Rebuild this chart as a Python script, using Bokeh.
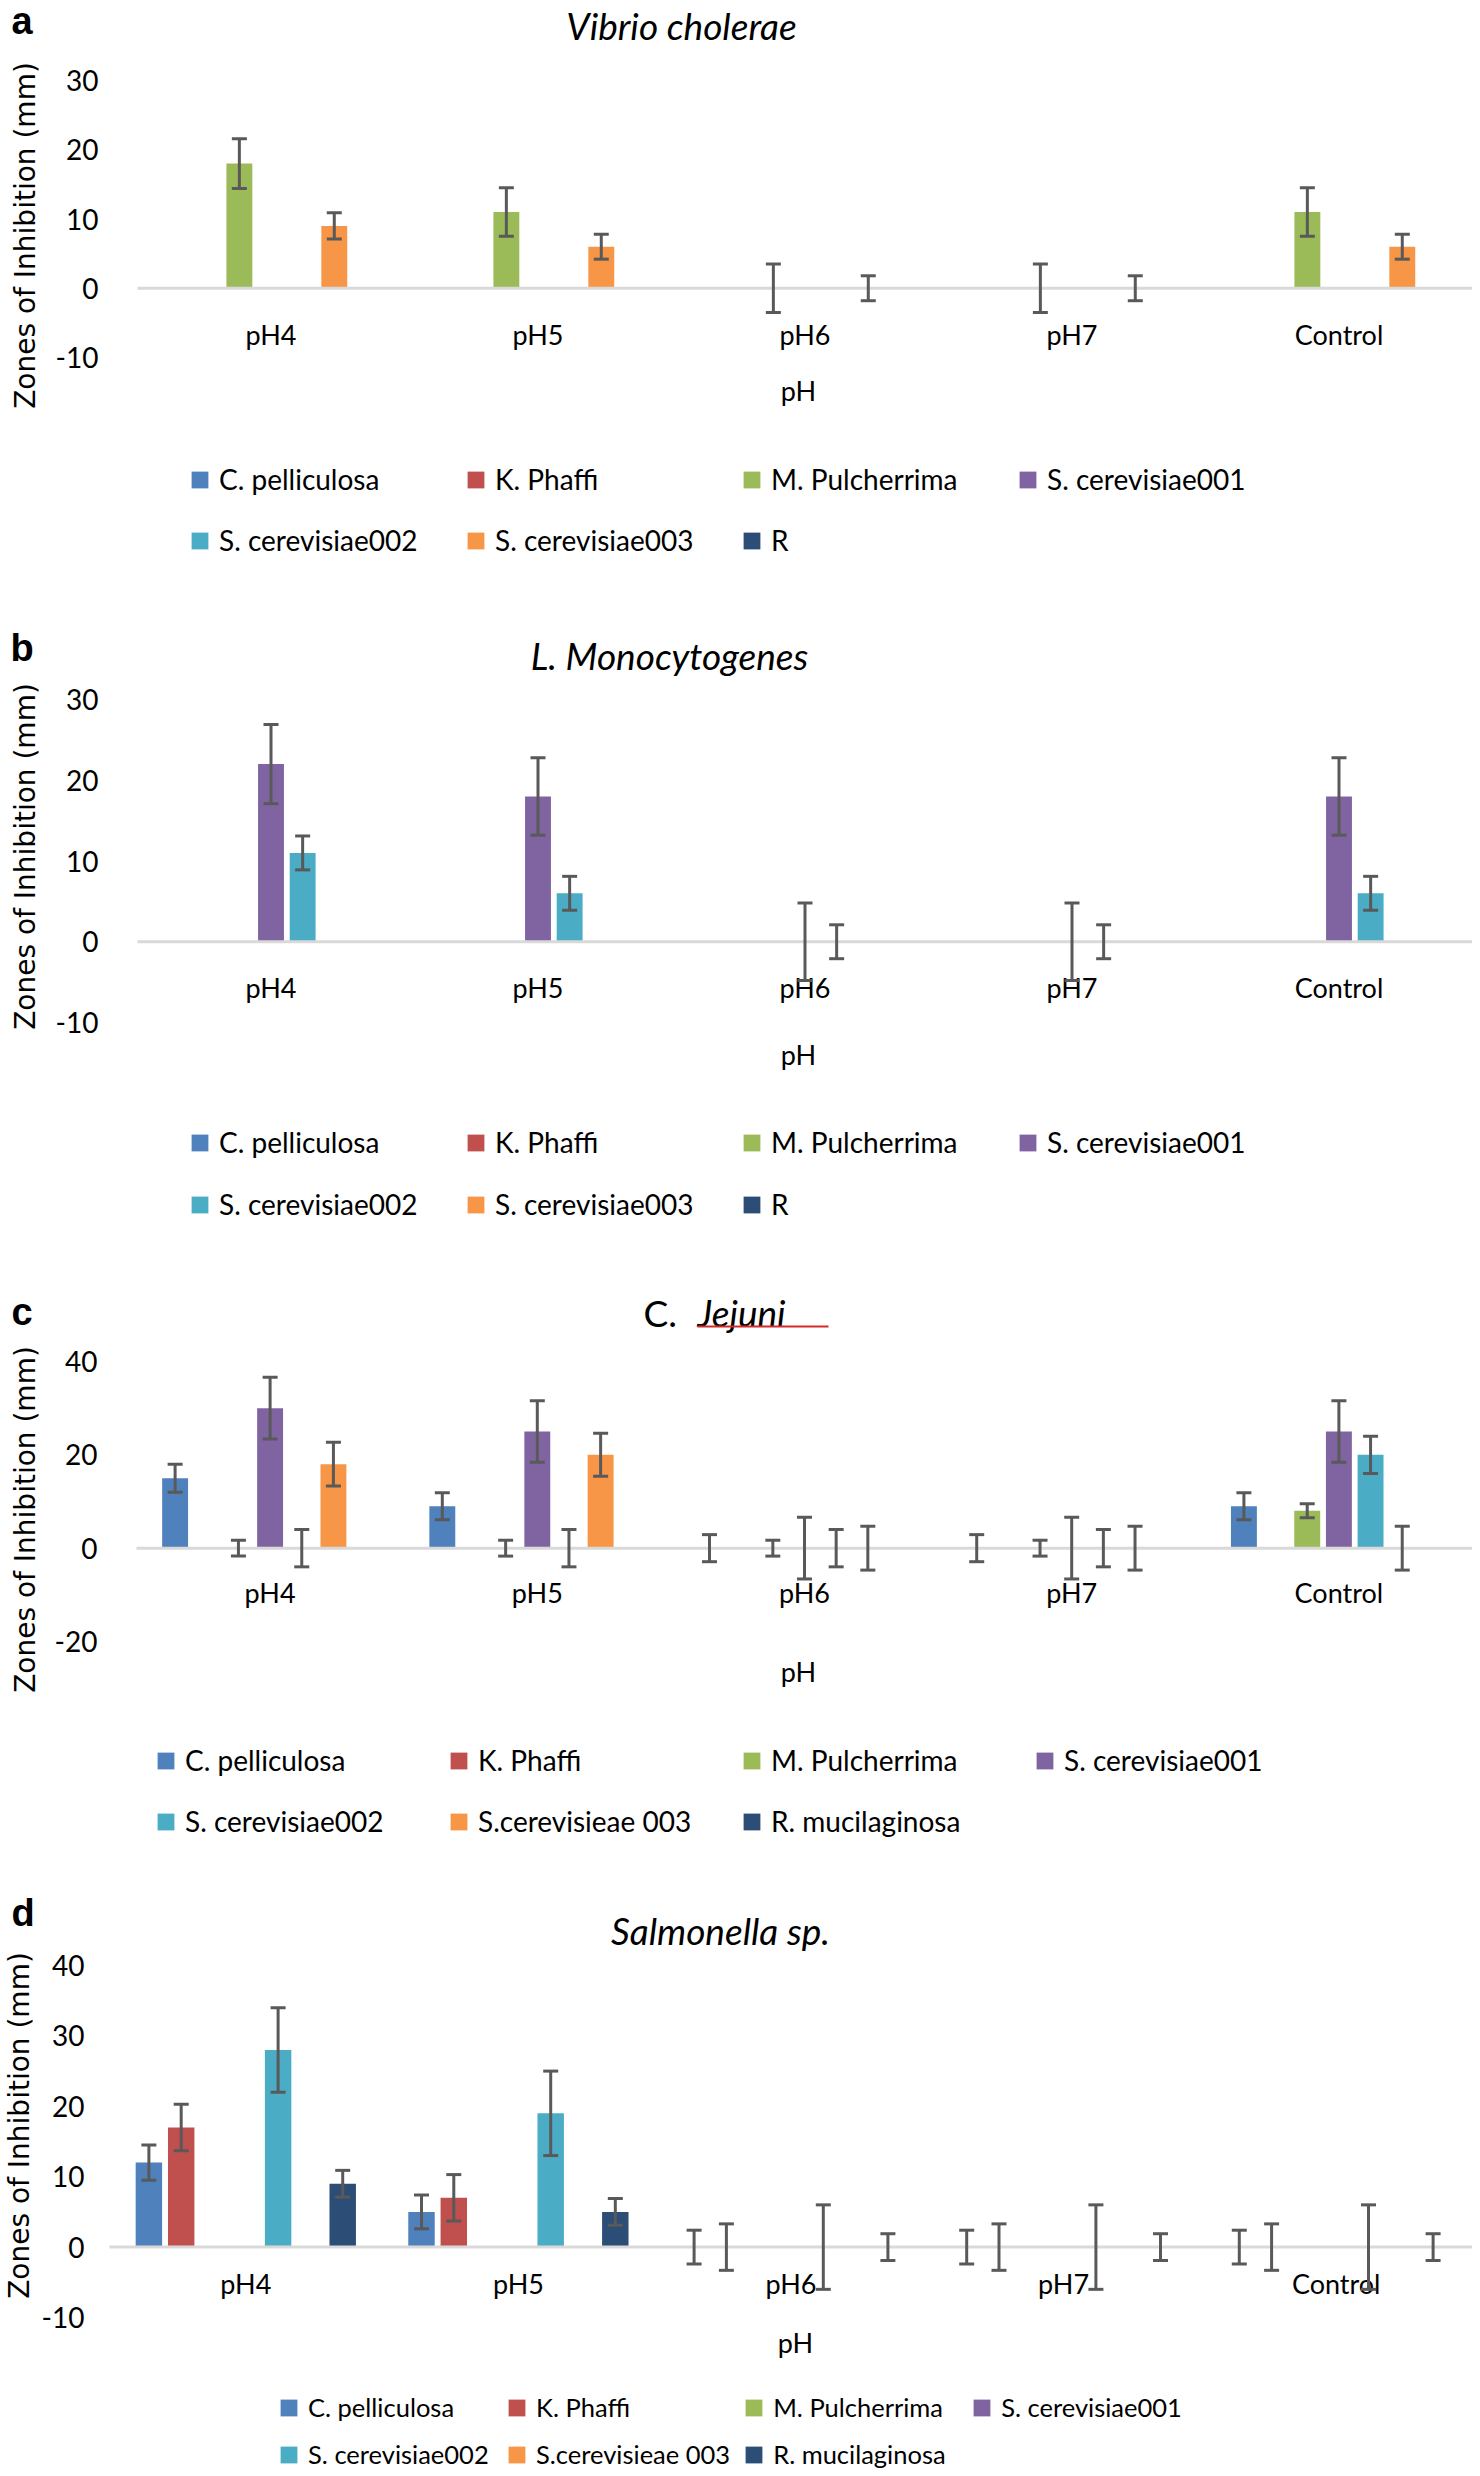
from bokeh.plotting import figure
from bokeh.models import (Range1d, FixedTicker, Whisker, TeeHead, ColumnDataSource,
                          Legend, LegendItem, Label, BoxAnnotation)
from bokeh.layouts import column
from bokeh.embed import file_html
from bokeh.resources import INLINE

# ---------------- data ----------------
CATEGORIES = ["pH4", "pH5", "pH6", "pH7", "Control"]
COLORS = ["#4F81BD", "#C0504D", "#9BBB59", "#8064A2", "#4BACC6", "#F79646", "#2C4D75"]
NAMES_AB = ["C. pelliculosa", "K. Phaffi", "M. Pulcherrima", "S. cerevisiae001",
            "S. cerevisiae002", "S. cerevisiae003", "R"]
NAMES_CD = ["C. pelliculosa", "K. Phaffi", "M. Pulcherrima", "S. cerevisiae001",
            "S. cerevisiae002", "S.cerevisieae 003", "R. mucilaginosa"]
Y_TITLE = "Zones of Inhibition (mm)"
X_TITLE = "pH"

# (a) Vibrio cholerae : one row per yeast, one value per category
VC_MEAN = [[0, 0, 0, 0, 0], [0, 0, 0, 0, 0], [18, 11, 0, 0, 11], [0, 0, 0, 0, 0],
           [0, 0, 0, 0, 0], [9, 6, 0, 0, 6], [0, 0, 0, 0, 0]]
VC_ERR = [[0, 0, 0, 0, 0], [0, 0, 0, 0, 0], [3.6, 3.5, 3.5, 3.5, 3.5], [0, 0, 0, 0, 0],
          [0, 0, 0, 0, 0], [1.9, 1.8, 1.8, 1.8, 1.8], [0, 0, 0, 0, 0]]
# (b) L. Monocytogenes
LM_MEAN = [[0, 0, 0, 0, 0], [0, 0, 0, 0, 0], [0, 0, 0, 0, 0], [22, 18, 0, 0, 18],
           [11, 6, 0, 0, 6], [0, 0, 0, 0, 0], [0, 0, 0, 0, 0]]
LM_ERR = [[0, 0, 0, 0, 0], [0, 0, 0, 0, 0], [0, 0, 0, 0, 0], [4.9, 4.8, 4.8, 4.8, 4.8],
          [2.1, 2.1, 2.1, 2.1, 2.1], [0, 0, 0, 0, 0], [0, 0, 0, 0, 0]]
# (c) C. Jejuni
CJ_MEAN = [[15, 9, 0, 0, 9], [0, 0, 0, 0, 0], [0, 0, 0, 0, 8], [30, 25, 0, 0, 25],
           [0, 0, 0, 0, 20], [18, 20, 0, 0, 0], [0, 0, 0, 0, 0]]
CJ_ERR = [[3.0, 2.9, 2.9, 2.9, 2.9], [0, 0, 0, 0, 0], [1.7, 1.7, 1.7, 1.7, 1.5],
          [6.6, 6.6, 6.6, 6.6, 6.6], [4.0, 4.0, 4.0, 4.0, 4.0], [4.7, 4.6, 4.7, 4.7, 4.7],
          [0, 0, 0, 0, 0]]
# (d) Salmonella sp.
SA_MEAN = [[12, 5, 0, 0, 0], [17, 7, 0, 0, 0], [0, 0, 0, 0, 0], [0, 0, 0, 0, 0],
           [28, 19, 0, 0, 0], [0, 0, 0, 0, 0], [9, 5, 0, 0, 0]]
SA_ERR = [[2.5, 2.4, 2.4, 2.4, 2.4], [3.3, 3.3, 3.3, 3.3, 3.3], [0, 0, 0, 0, 0],
          [0, 0, 0, 0, 0], [6.0, 6.0, 6.0, 6.0, 6.0], [0, 0, 0, 0, 0], [1.9, 1.9, 1.9, 1.9, 1.9]]

# ---------------- style / layout ----------------
W = 1472
PX0 = 0        # page left (observed)
SLOT = 0.1185
BAR_W = 0.097
FONT = "Lato"
EB = "#595959"
ZERO = "#D9D9D9"
ITEM_H = 34


def txt(p, g, text, X, Y, size, font=FONT, style="normal", align="left", angle=0):
    p.add_layout(Label(x=X - PX0, y=(g["y0"] + g["h"]) - Y, x_units="screen", y_units="screen",
                       text=text, text_font=font, text_font_size=f"{size}px",
                       text_font_style=style, text_align=align, text_baseline="middle",
                       angle=angle, angle_units="deg", text_color="black"))


def panel(names, means, errs, yticks, g, titles):
    n = len(CATEGORIES)
    # map the category band [0, n] onto the pixel span [fl, fr]
    xppu = (g["fr"] - g["fl"]) / n
    x_start = -(g["fl"] - PX0) / xppu
    x_end = n + (PX0 + W - g["fr"]) / xppu
    (v1, t1), (v0, t0) = g["ytop"], g["ybot"]
    yppu = (t0 - t1) / (v1 - v0)
    y_end = v1 + (t1 - g["y0"]) / yppu
    y_start = v0 - (g["y0"] + g["h"] - t0) / yppu

    p = figure(width=W, height=g["h"], x_range=Range1d(x_start, x_end),
               y_range=Range1d(y_start, y_end), title=None,
               output_backend="svg", toolbar_location=None, frame_align=False, min_border=0)
    p.outline_line_color = None
    p.grid.visible = False

    renderers = []
    for i in range(len(COLORS)):
        off = (i - 3) * SLOT
        xs = [j + 0.5 + off for j in range(n)]
        src = ColumnDataSource(dict(x=xs, top=means[i], cat=CATEGORIES))
        r = p.vbar(x="x", top="top", width=BAR_W, source=src, fill_color=COLORS[i], line_color=None)
        renderers.append(r)
    # zero baseline across the category band
    p.segment(x0=[0], y0=[0], x1=[n], y1=[0], line_color=ZERO, line_width=3)
    for i in range(len(COLORS)):
        off = (i - 3) * SLOT
        keep = [j for j in range(n) if errs[i][j] > 0]
        if keep:
            esrc = ColumnDataSource(dict(
                x=[j + 0.5 + off for j in keep],
                upper=[means[i][j] + errs[i][j] for j in keep],
                lower=[means[i][j] - errs[i][j] for j in keep]))
            p.add_layout(Whisker(source=esrc, base="x", upper="upper", lower="lower",
                                 dimension="height", line_color=EB, line_width=3, level="overlay",
                                 upper_head=TeeHead(size=15, line_color=EB, line_width=3),
                                 lower_head=TeeHead(size=15, line_color=EB, line_width=3)))

    xa = p.xaxis[0]
    xa.fixed_location = 0
    xa.ticker = FixedTicker(ticks=[j + 0.5 for j in range(n)])
    xa.major_label_overrides = {j + 0.5: c for j, c in enumerate(CATEGORIES)}
    xa.axis_line_color = None
    xa.major_tick_line_color = None
    xa.minor_tick_line_color = None
    xa.major_tick_out = 0
    xa.major_tick_in = 0
    xa.major_label_standoff = g["xstand"]
    xa.major_label_text_font = FONT
    xa.major_label_text_font_size = "27px"
    xa.major_label_text_color = "black"

    ya = p.yaxis[0]
    ya.fixed_location = 0
    ya.ticker = FixedTicker(ticks=yticks)
    ya.major_label_overrides = {t: str(t) for t in yticks}
    ya.axis_line_color = None
    ya.major_tick_line_color = None
    ya.minor_tick_line_color = None
    ya.major_tick_out = 0
    ya.major_tick_in = 0
    ya.major_label_standoff = g["ystand"]
    ya.major_label_text_font = FONT
    ya.major_label_text_font_size = "28px"
    ya.major_label_text_color = "black"

    # titles, panel letter, axis titles
    txt(p, g, g["letter"], g["lt"][0], g["lt"][1], 38, font="Liberation Sans", style="bold")
    for t in titles:
        txt(p, g, t[0], t[1], t[2], 37, style=t[3], align=t[4])
    txt(p, g, Y_TITLE, g["yl"][0], g["yl"][1], 28, font="DejaVu Sans", align="center", angle=90)
    txt(p, g, X_TITLE, g["ph"][0], g["ph"][1], 27, align="center")
    if g.get("underline"):
        x1, x2, ytop, ybot = g["underline"]
        p.add_layout(BoxAnnotation(left=x1 - PX0, right=x2 - PX0,
                                   bottom=(g["y0"] + g["h"]) - ybot,
                                   top=(g["y0"] + g["h"]) - ytop,
                                   left_units="screen", right_units="screen",
                                   bottom_units="screen", top_units="screen",
                                   fill_color="#D42A2A", fill_alpha=1, line_color=None))

    vsp = g["rows"][1] - g["rows"][0] - ITEM_H
    items = [LegendItem(label=nm, renderers=[r]) for nm, r in zip(names, renderers)]
    leg = Legend(items=items,
                 location=(g["lx"] - PX0, (g["y0"] + g["h"]) - (g["rows"][1] + ITEM_H / 2)),
                 orientation="horizontal", ncols=4,
                 glyph_width=21, glyph_height=21, label_standoff=9,
                 label_width=int(g["pitch"] - 30 - vsp), label_height=ITEM_H, spacing=int(vsp),
                 padding=0, margin=0, border_line_color=None, background_fill_alpha=0,
                 label_text_font=FONT, label_text_font_size=g["lfs"], label_text_color="black")
    p.add_layout(leg)
    return p


GA = dict(y0=0, h=612, fl=137, fr=1472, ytop=(30, 80), ybot=(-10, 357),
          xstand=30, ystand=39, yl=(25, 235), ph=(798, 390),
          lx=189, rows=(479, 540), pitch=276.5, lfs="28px", letter="a", lt=(11, 20))
GB = dict(y0=612, h=660, fl=137, fr=1472, ytop=(30, 699), ybot=(-10, 1022),
          xstand=29, ystand=39, yl=(25, 856), ph=(798, 1054),
          lx=189, rows=(1142, 1204), pitch=276.5, lfs="28px", letter="b", lt=(10, 647))
GC = dict(y0=1272, h=604, fl=136, fr=1472, ytop=(40, 1361), ybot=(-20, 1641),
          xstand=28, ystand=39, yl=(25, 1519), ph=(798, 1671),
          lx=155, rows=(1760, 1821), pitch=293, lfs="28px", letter="c", lt=(11, 1311),
          underline=(697, 828, 1325, 1327))
GD = dict(y0=1876, h=592, fl=109, fr=1472, ytop=(40, 1965), ybot=(-10, 2317),
          xstand=20, ystand=25, yl=(19, 2125), ph=(795, 2342),
          lx=278, rows=(2407, 2454), pitch=228, lfs="25.5px", letter="d", lt=(11, 1912))

pa = panel(NAMES_AB, VC_MEAN, VC_ERR, [-10, 0, 10, 20, 30], GA,
           [("Vibrio cholerae", 681, 25, "italic", "center")])
pb = panel(NAMES_AB, LM_MEAN, LM_ERR, [-10, 0, 10, 20, 30], GB,
           [("L. Monocytogenes", 669, 655, "italic", "center")])
pc = panel(NAMES_CD, CJ_MEAN, CJ_ERR, [-20, 0, 20, 40], GC,
           [("C.", 643, 1312, "normal", "left"), ("Jejuni", 697, 1312, "italic", "left")])
pd_ = panel(NAMES_CD, SA_MEAN, SA_ERR, [-10, 0, 10, 20, 30, 40], GD,
            [("Salmonella sp.", 720, 1930, "italic", "center")])

layout = column(pa, pb, pc, pd_, spacing=0)
open("out.html", "w").write(file_html(layout, INLINE))
